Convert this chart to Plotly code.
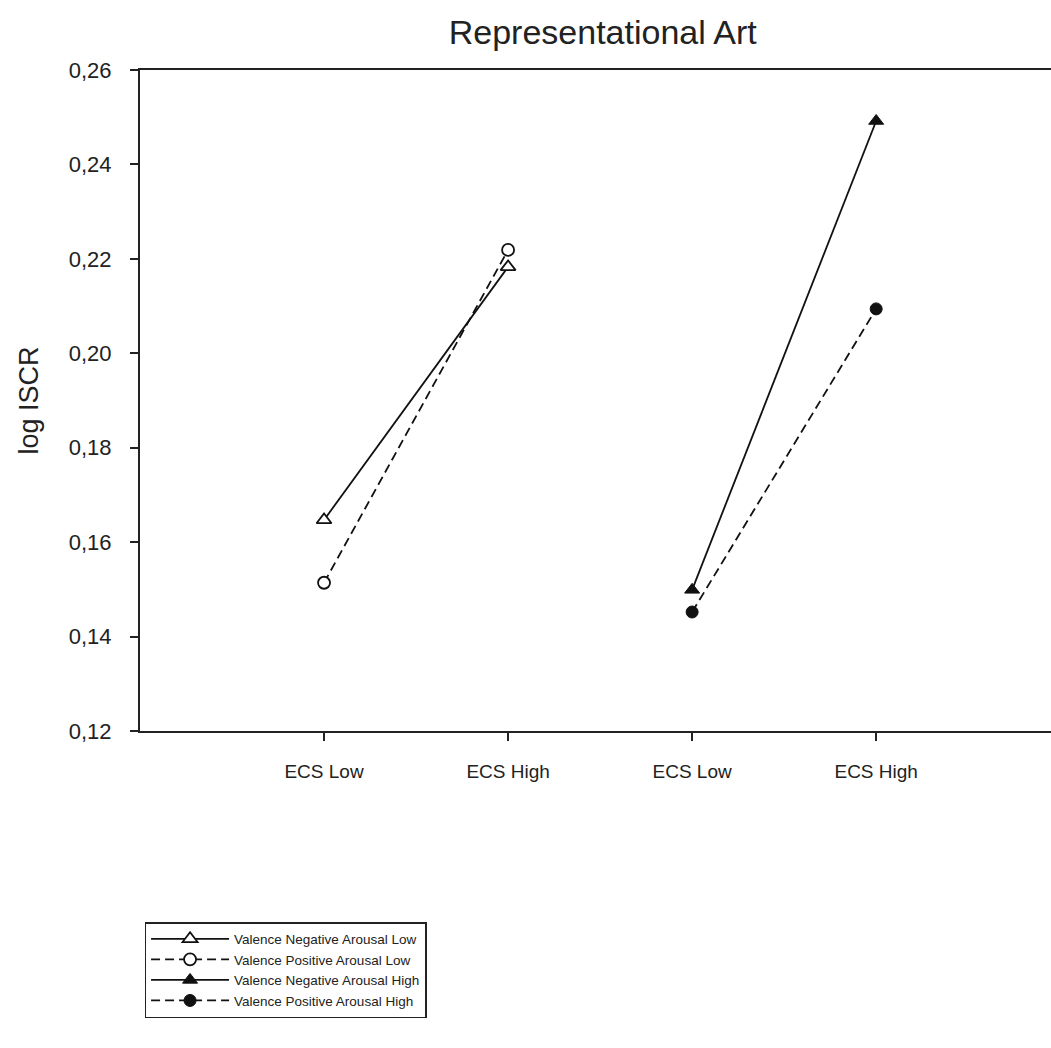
import plotly.graph_objects as go

tick_labels = ["ECS Low", "ECS High", "ECS Low", "ECS High"]
tick_positions = [1, 2, 3, 4]

neg_low_x = [1, 2]
neg_low_y = [0.1647, 0.2183]
pos_low_x = [1, 2]
pos_low_y = [0.1514, 0.2219]
neg_high_x = [3, 4]
neg_high_y = [0.1499, 0.2492]
pos_high_x = [3, 4]
pos_high_y = [0.1452, 0.2094]

series_names = [
    "Valence Negative Arousal Low",
    "Valence Positive Arousal Low",
    "Valence Negative Arousal High",
    "Valence Positive Arousal High",
]

ink = "#111111"
fig = go.Figure()
fig.add_trace(go.Scatter(x=neg_low_x, y=neg_low_y, name=series_names[0], mode="lines+markers",
                         line=dict(color=ink, width=1.8),
                         marker=dict(symbol="triangle-up", size=13, color="white", line=dict(color=ink, width=1.8))))
fig.add_trace(go.Scatter(x=pos_low_x, y=pos_low_y, name=series_names[1], mode="lines+markers",
                         line=dict(color=ink, width=1.8, dash="9px,5px"),
                         marker=dict(symbol="circle", size=12, color="white", line=dict(color=ink, width=1.8))))
fig.add_trace(go.Scatter(x=neg_high_x, y=neg_high_y, name=series_names[2], mode="lines+markers",
                         line=dict(color=ink, width=1.8),
                         marker=dict(symbol="triangle-up", size=13, color=ink, line=dict(color=ink, width=1))))
fig.add_trace(go.Scatter(x=pos_high_x, y=pos_high_y, name=series_names[3], mode="lines+markers",
                         line=dict(color=ink, width=1.8, dash="9px,5px"),
                         marker=dict(symbol="circle", size=12, color=ink, line=dict(color=ink, width=1))))

fig.update_layout(
    width=1051, height=1048,
    margin=dict(l=140, r=0, t=70, b=317),
    paper_bgcolor="white", plot_bgcolor="white",
    font=dict(family="Liberation Sans, Arial, sans-serif", color="#222222"),
    title=dict(text="Representational Art", x=0.508, xanchor="center", xref="paper",
               y=0.969, yanchor="middle", font=dict(size=34, color="#222222")),
    showlegend=True,
    legend=dict(x=0.005, xanchor="left", y=-0.289, yanchor="top",
                bordercolor="#222222", borderwidth=1.5, bgcolor="white",
                font=dict(size=13.5, color="#222222"), tracegroupgap=0, itemwidth=78,
                traceorder="normal"),
)
fig.update_xaxes(range=[0, 4.95], tickvals=tick_positions, ticktext=tick_labels,
                 showgrid=False, zeroline=False, showline=True, linecolor="#222222", linewidth=2,
                 mirror=True, ticks="outside", ticklen=8, tickwidth=1.5, tickcolor="#222222",
                 ticklabelstandoff=14,
                 tickfont=dict(size=19, color="#222222"))
fig.update_yaxes(range=[0.12, 0.26], tickvals=[0.12, 0.14, 0.16, 0.18, 0.20, 0.22, 0.24, 0.26],
                 ticktext=["0,12", "0,14", "0,16", "0,18", "0,20", "0,22", "0,24", "0,26"],
                 showgrid=False, zeroline=False, showline=True, linecolor="#222222", linewidth=2,
                 ticks="outside", ticklen=8, tickwidth=1.5, tickcolor="#222222",
                 ticklabelstandoff=14,
                 tickfont=dict(size=22, color="#222222"),
                 title=dict(text="log ISCR", font=dict(size=27, color="#222222"), standoff=22))

fig.write_html("out.html")
